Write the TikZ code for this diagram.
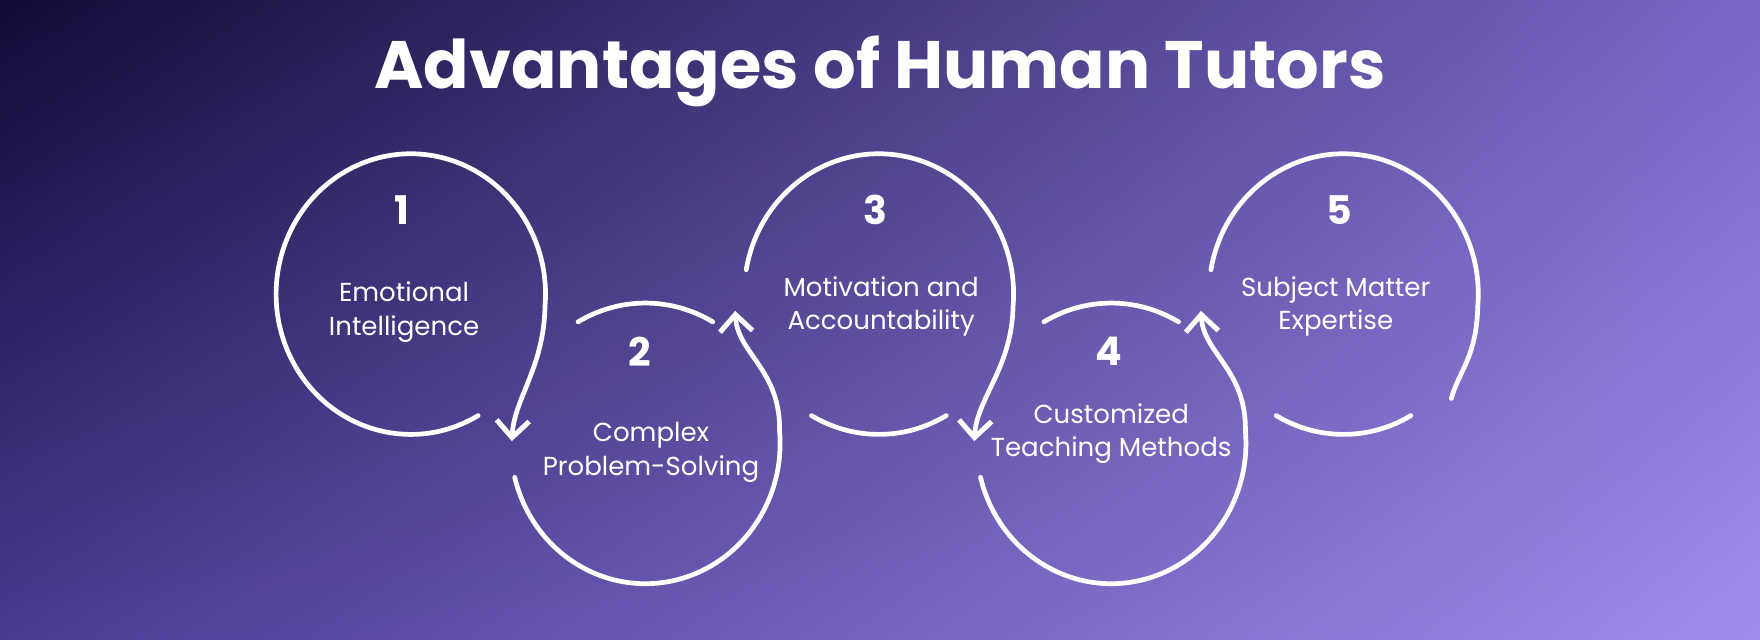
\documentclass[tikz,border=0pt]{standalone}
\usepackage{fontspec}
\setmainfont{Poppins}
\usetikzlibrary{arrows.meta,shadings}
\definecolor{bgTL}{HTML}{110A36}
\definecolor{bgTR}{HTML}{7A66C6}
\definecolor{bgBL}{HTML}{4A3A92}
\definecolor{bgBR}{HTML}{A28CEC}
\begin{document}
\begin{tikzpicture}[x=0.1mm,y=0.1mm,
    loop/.style={white, line width=0.42mm, line cap=round},
    tip/.style={-{Straight Barb[length=1.5mm,width=2.9mm,line width=0.45mm]}},
    num/.style={white, font=\fontsize{10}{12}\selectfont\bfseries},
    lbl/.style={white, align=center, font=\fontsize{6.6}{8.4}\selectfont}]
    % Background
    \shade[upper left=bgTL, upper right=bgTR, lower left=bgBL, lower right=bgBR]
        (0,0) rectangle (1568,570);
    \useasboundingbox (0,0) rectangle (1568,570);
    % Title
    \node[white, font=\fontsize{17}{20}\selectfont\bfseries] (title) at (784,506) {Advantages of Human Tutors};

    % Centres of the loops
    \coordinate (c1) at (366,308);
    \coordinate (c2) at (575,175);
    \coordinate (c3) at (783,308);
    \coordinate (c4) at (990,175);
    \coordinate (c5) at (1197,308);
    \coordinate (t1) at (456,177);
    \coordinate (t2) at (655,293);
    \coordinate (t3) at (868,177);
    \coordinate (t4) at (1070,293);

    % Loop 1
    \draw[loop,tip] ([shift={(-60:120 and 125)}]c1) arc[start angle=-60, end angle=-365, x radius=120, y radius=125]
        .. controls +(-1,-55) and (458,215) .. (t1);
    % Loop 2
    \draw[loop] ([shift={(120:120 and 125)}]c2) arc[start angle=120, end angle=60, x radius=120, y radius=125];
    \draw[loop,tip] ([shift={(194:120 and 125)}]c2) arc[start angle=194, end angle=365, x radius=120, y radius=125]
        .. controls +(1,55) and (657,255) .. (t2);
    % Loop 3
    \draw[loop,tip] ([shift={(170:120 and 125)}]c3) arc[start angle=170, end angle=-5, x radius=120, y radius=125]
        .. controls +(-1,-55) and (870,215) .. (t3);
    \draw[loop] ([shift={(-120:120 and 125)}]c3) arc[start angle=-120, end angle=-60, x radius=120, y radius=125];
    % Loop 4
    \draw[loop] ([shift={(120:120 and 125)}]c4) arc[start angle=120, end angle=60, x radius=120, y radius=125];
    \draw[loop,tip] ([shift={(194:120 and 125)}]c4) arc[start angle=194, end angle=365, x radius=120, y radius=125]
        .. controls +(1,55) and (1072,255) .. (t4);
    % Loop 5
    \draw[loop] ([shift={(170:120 and 125)}]c5) arc[start angle=170, end angle=-5, x radius=120, y radius=125]
        .. controls +(-1,-45) and (1300,240) .. (1293,215);
    \draw[loop] ([shift={(-120:120 and 125)}]c5) arc[start angle=-120, end angle=-60, x radius=120, y radius=125];

    % Numbers
    \node[num] (n1) at (358,383) {1};
    \node[num] (n2) at (570,257) {2};
    \node[num] (n3) at (780,383) {3};
    \node[num] (n4) at (988,257) {4};
    \node[num] (n5) at (1193,383) {5};
    % Labels
    \node[lbl] (l1) at (360,292) {Emotional\\Intelligence};
    \node[lbl] (l2) at (580,167) {Complex\\Problem-Solving};
    \node[lbl] (l3) at (785,297) {Motivation and\\Accountability};
    \node[lbl] (l4) at (990,184) {Customized\\Teaching Methods};
    \node[lbl] (l5) at (1190,297) {Subject Matter\\Expertise};
\end{tikzpicture}
\end{document}
